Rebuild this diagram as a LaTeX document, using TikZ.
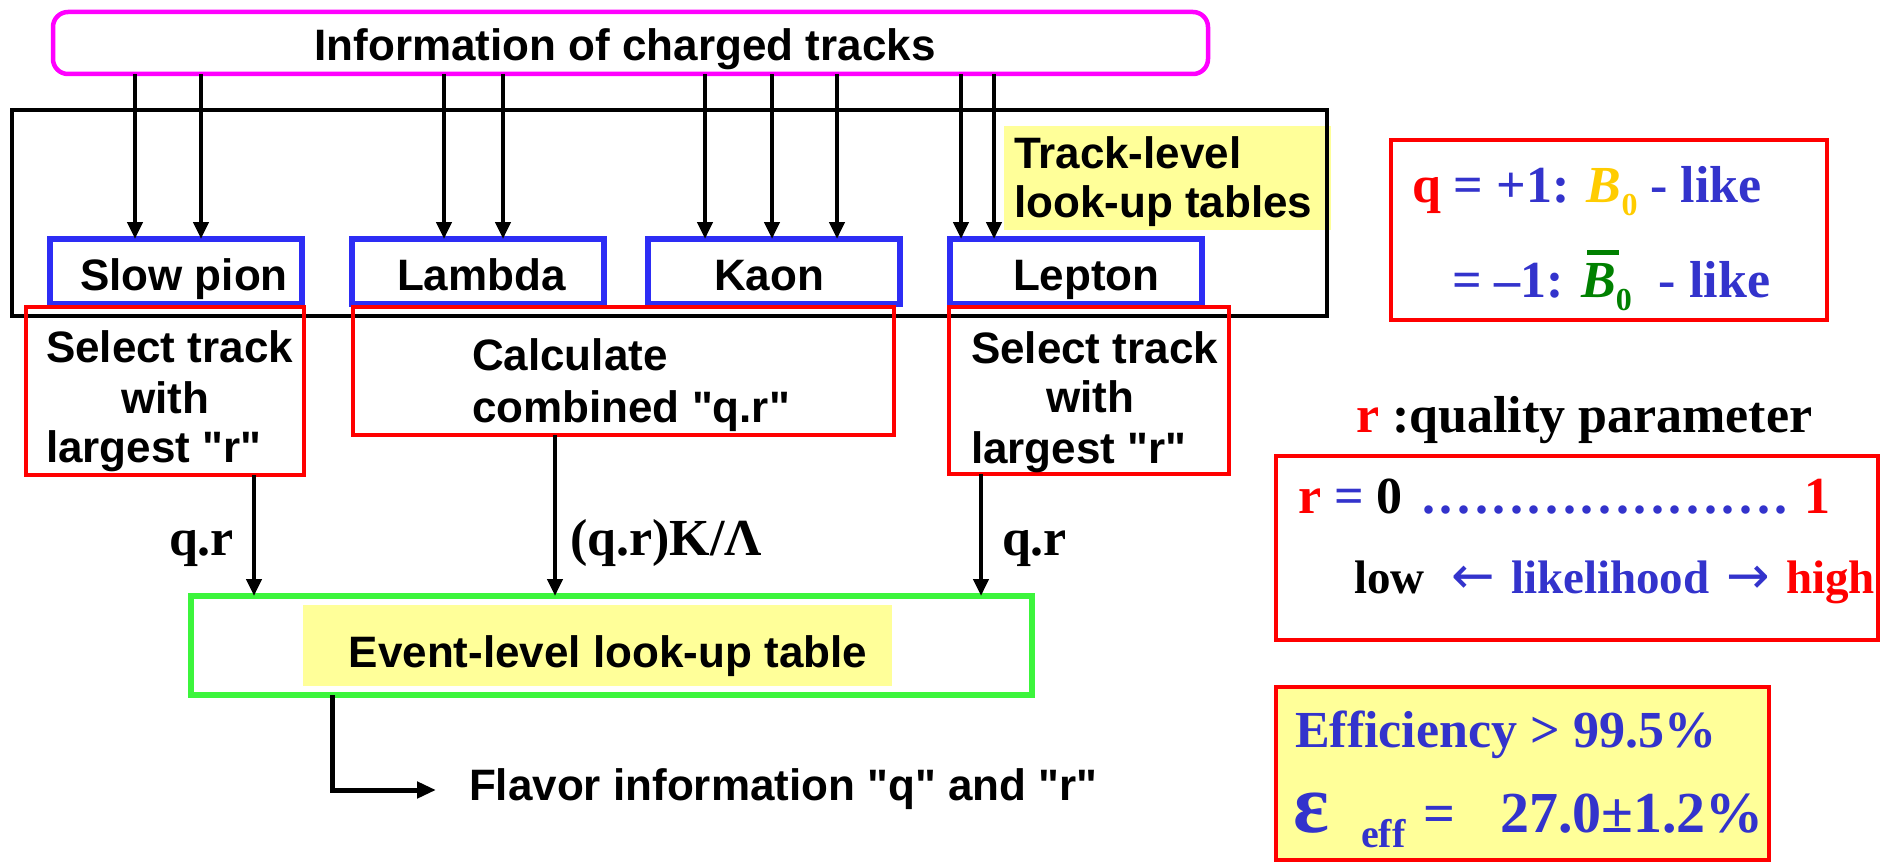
\documentclass[tikz,border=0pt]{standalone}
\usepackage{fontspec}
\setmainfont{Liberation Sans}
% plain families: no TeX ligature mapping, so " stays a straight quote
\newfontfamily\sansf{Liberation Sans}
\newfontfamily\tnr{Liberation Serif}
\newfontfamily\arrfont{DejaVu Sans}
\usetikzlibrary{arrows.meta}

\definecolor{magentabox}{RGB}{255,0,255}
\definecolor{boxblue}{RGB}{45,45,245}
\definecolor{boxgreen}{RGB}{60,245,60}
\definecolor{boxred}{RGB}{255,0,0}
\definecolor{txtblue}{RGB}{51,51,204}
\definecolor{gold}{RGB}{255,204,0}
\definecolor{bgreen}{RGB}{0,128,0}
\definecolor{hilite}{RGB}{255,255,153}

\newcommand\sanslabel{\fontsize{44}{50}\selectfont\sansf\bfseries}
\newcommand\seriflabel{\fontsize{52}{60}\selectfont\tnr\bfseries}

\begin{document}
\begin{tikzpicture}[x=1pt,y=-1pt,
  every node/.style={inner sep=0pt, outer sep=0pt},
  frame/.style={rectangle, anchor=north west},
  bluebox/.style={frame, draw=boxblue, line width=6pt, minimum width=252pt, minimum height=65pt},
  redbox/.style={frame, draw=boxred, line width=4pt},
  txt/.style={anchor=base west, font=\sanslabel},
  stxt/.style={anchor=base west, font=\seriflabel},
  arr/.style={line width=4.5pt, -{Triangle[length=17pt,width=15pt]}},
  arrf/.style={line width=5pt, -{Triangle[length=19pt,width=16pt]}},
]
\useasboundingbox (0,0) rectangle (1899,867);

% source of the tracks
\node[frame, draw=magentabox, line width=4.5pt, rounded corners=15pt,
      minimum width=1155pt, minimum height=62pt] (info) at (53,12) {};
\node[txt, anchor=base] (infotxt) at (625,60) {Information of charged tracks};

% track-level tables
\node[frame, fill=hilite, minimum width=327pt, minimum height=104pt] (tlbg) at (1004,126) {};
\node[frame, draw=black, line width=4pt, minimum width=1315pt, minimum height=206pt] (track) at (12,110) {};
\node[txt] (tl1) at (1014,168) {Track-level};
\node[txt] (tl2) at (1014,217) {look-up tables};

\node[bluebox] (slow) at (50,239) {};
\node[bluebox] (lam) at (352,239) {};
\node[bluebox] (kaon) at (648,239) {};
\node[bluebox] (lep) at (950,239) {};
\node[txt] (slowtxt) at (80,290) {Slow pion};
\node[txt] (lamtxt) at (397,290) {Lambda};
\node[txt] (kaontxt) at (714,290) {Kaon};
\node[txt] (leptxt) at (1013,290) {Lepton};

% input arrows
\foreach \xx/\tgt in {135/slow,201/slow,444/lam,503/lam,705/kaon,772/kaon,837/kaon,961/lep,994/lep}{
  \coordinate (tx) at (\xx,0);
  \draw[arr] (info.south -| tx) -- (\tgt.north -| tx);
}

% selection / combination boxes
\node[redbox, minimum width=278pt, minimum height=168pt] (sel1) at (26,307) {};
\node[redbox, minimum width=541pt, minimum height=128pt] (comb) at (353,307) {};
\node[redbox, minimum width=280pt, minimum height=167pt] (sel2) at (949,307) {};

\node[txt] (s1a) at (46,362) {Select track};
\node[txt] (s1b) at (121,413) {with};
\node[txt] (s1c) at (46,462) {largest "r"};
\node[txt] (cba) at (472,370) {Calculate};
\node[txt] (cbb) at (472,422) {combined "q.r"};
\node[txt] (s2a) at (971,363) {Select track};
\node[txt] (s2b) at (1046,412) {with};
\node[txt] (s2c) at (971,463) {largest "r"};

% event-level table
\node[frame, draw=boxgreen, line width=6pt, minimum width=841pt, minimum height=99pt] (event) at (191,596) {};
\node[frame, fill=hilite, minimum width=589pt, minimum height=81pt] (evbg) at (303,605) {};
\node[txt, anchor=base] (evtxt) at (608,667) {Event-level look-up table};

\coordinate (a1) at (254,0);
\coordinate (a2) at (555,0);
\coordinate (a3) at (981,0);
\draw[arr] (sel1.south -| a1) -- (event.north -| a1);
\draw[arr] (comb.south -| a2) -- (event.north -| a2);
\draw[arr] (sel2.south -| a3) -- (event.north -| a3);
\node[stxt] (lq1) at (169,555) {q.r};
\node[stxt] (lq2) at (570,555) {(q.r)K/Λ};
\node[stxt] (lq3) at (1002,555) {q.r};

% output
\coordinate (fx) at (332,0);
\coordinate (ftip) at (436,790);
\draw[arrf] (event.south -| fx) |- (ftip);
\node[txt] (flavor) at (469,800) {Flavor information "q" and "r"};

% flavour convention
\node[redbox, minimum width=436pt, minimum height=180pt] (qbox) at (1391,140) {};
\node[stxt, text=txtblue] (q1) at (1412,202)
  {\textcolor{red}{q} = +1: {\color{gold}\textit{B}\raisebox{-13pt}{\fontsize{32}{32}\selectfont 0}} - like};
\node[stxt, text=txtblue] (q2) at (1452,297)
  {= –1: {\color{bgreen}\rlap{\hspace{6pt}\rule[42pt]{32pt}{5pt}}\textit{B}\raisebox{-13pt}{\fontsize{32}{32}\selectfont 0}}\hspace{27pt}- like};

% quality parameter
\node[stxt] (rq) at (1356,432) {\textcolor{red}{r} :quality parameter};
\node[redbox, minimum width=602pt, minimum height=184pt] (rbox) at (1276,456) {};
\node[stxt] (rline) at (1298,513) {\textcolor{red}{r} \textcolor{txtblue}{=} 0};
\node[stxt, text=txtblue] (rdots) at (1420,513)
  {\hbox to 370pt{\xleaders\hbox to 17.6pt{\hss.\hss}\hfill}};
\node[stxt, text=red] (rone) at (1804,513) {1};
\node[anchor=base west, font=\fontsize{47}{54}\selectfont\tnr\bfseries] (rlow) at (1354,593) {low};
\node[anchor=base west, text=txtblue, font=\fontsize{52}{56}\selectfont\arrfont] (larr) at (1451,593) {←};
\node[anchor=base west, text=txtblue, font=\fontsize{47}{54}\selectfont\tnr\bfseries] (rlike) at (1511,593) {likelihood};
\node[anchor=base west, text=txtblue, font=\fontsize{52}{56}\selectfont\arrfont] (rarr) at (1726,593) {→};
\node[anchor=base west, text=red, font=\fontsize{47}{54}\selectfont\tnr\bfseries] (rhigh) at (1786,593) {high};

% performance
\node[redbox, fill=hilite, minimum width=493pt, minimum height=173pt] (effbox) at (1276,687) {};
\node[stxt, text=txtblue] (effic) at (1295,747) {Efficiency > 99.5\%};
\node[anchor=base west, text=txtblue, font=\fontsize{84}{90}\selectfont\tnr\bfseries] (epsn) at (1293,832) {ε};
\node[anchor=base west, text=txtblue, font=\fontsize{40}{44}\selectfont\tnr\bfseries] (effsub) at (1361,847) {eff};
\node[anchor=base west, text=txtblue, font=\fontsize{56}{60}\selectfont\tnr\bfseries] (effeq) at (1423,832) {=};
\node[anchor=base west, text=txtblue, font=\fontsize{58}{62}\selectfont\tnr\bfseries] (effval) at (1500,832) {27.0±1.2\%};
\end{tikzpicture}
\end{document}
